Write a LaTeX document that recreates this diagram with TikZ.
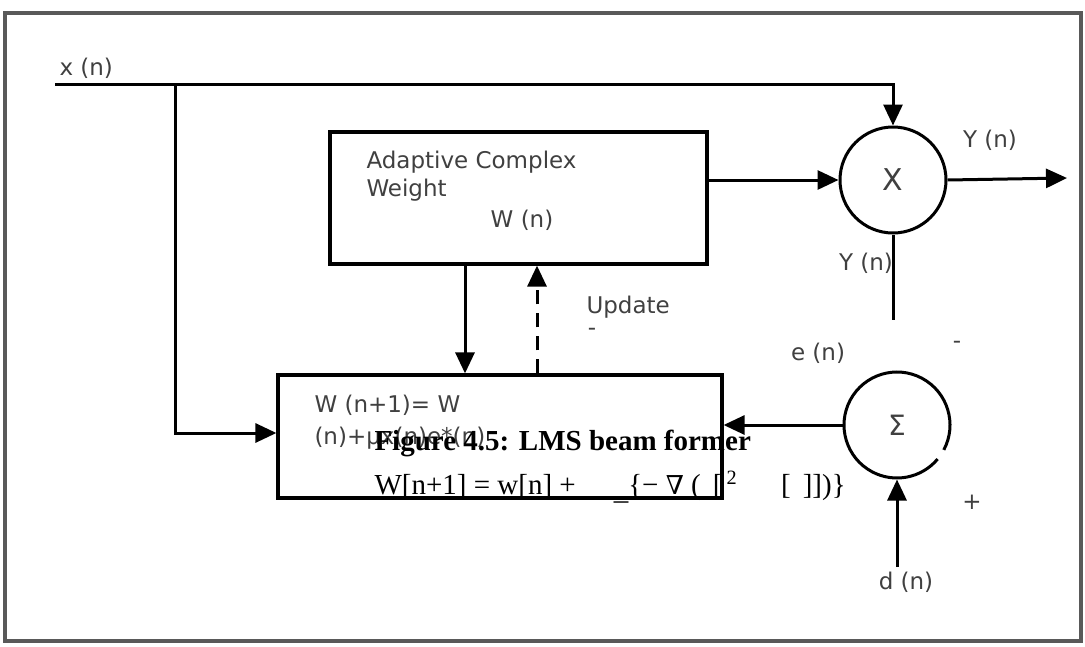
\documentclass[tikz,border=0pt]{standalone}
\usepackage{fontspec}
\usepackage{tikz}
\usetikzlibrary{arrows.meta}
\newfontfamily\blkfont{DejaVu Sans}
\newfontfamily\capfont{Liberation Serif}
\newfontfamily\symfont{DejaVu Serif}

\begin{document}
\begin{tikzpicture}[line width=3pt,>={Triangle[length=21pt,width=19pt]},
    blk/.style={draw, rectangle, line width=3.2pt, inner sep=0pt},
    junc/.style={circle, minimum size=106pt, inner sep=0pt},
    lbl/.style={text=black!75, inner sep=0pt, font=\blkfont\fontsize{23}{27}\selectfont},
    captxt/.style={inner sep=0pt, font=\capfont\fontsize{29}{33}\selectfont}]
  \useasboundingbox (0pt, 0pt) rectangle (1085pt, -646pt);
  \draw[black!65, line width=3.5pt] (5.0pt, -13.0pt) rectangle (1081.0pt, -641.0pt);
  % blocks
  \draw (518.5pt, -198.0pt)node[blk, minimum width=377pt, minimum height=132pt](adapt){};
  \draw (500.0pt, -436.5pt)node[blk, minimum width=444pt, minimum height=123pt](upd){};
  \draw (893.0pt, -180.0pt)node[junc, draw](mul){\blkfont\fontsize{30}{30}\selectfont\color{black!75}X};
  \draw (897.0pt, -425.0pt)node[junc](sum){\blkfont\fontsize{28}{28}\selectfont\color{black!75}Σ};
  \draw (sum) ++(-28:53pt) arc[start angle=-28, end angle=320, radius=53pt];
  % free ends
  \coordinate (xin) at (55.0pt, -84.0pt);
  \coordinate (split) at (175.0pt, -84.0pt);
  \coordinate (yout) at (1067.0pt, -178.0pt);
  \coordinate (ydrop) at (893.0pt, -320.0pt);
  \coordinate (dsrc) at (897.0pt, -567.0pt);
  % labels
  \draw (58.0pt, -68.0pt)node[lbl, anchor=west](xlbl){x (n)};
  \draw (365.0pt, -162.0pt)node[lbl, anchor=west](adl1){Adaptive Complex};
  \draw (365.0pt, -190.0pt)node[lbl, anchor=west](adl2){Weight};
  \draw (522.0pt, -220.0pt)node[lbl](wlbl){W (n)};
  \draw (313.0pt, -405.0pt)node[lbl, anchor=west](upl1){W (n+1)= W};
  \draw (313.0pt, -438.0pt)node[lbl, anchor=west](upl2){(n)+µx(n)e*(n)};
  \draw (585.0pt, -307.0pt)node[lbl, anchor=west](updlbl){Update};
  \draw (592.0pt, -332.0pt)node[lbl](updm){-};
  \draw (990.0pt, -140.0pt)node[lbl](youtlbl){Y (n)};
  \draw (866.0pt, -263.0pt)node[lbl](ylbl){Y (n)};
  \draw (818.0pt, -353.0pt)node[lbl](elbl){e (n)};
  \draw (957.0pt, -345.0pt)node[lbl](minus){-};
  \draw (972.0pt, -502.0pt)node[lbl](plus){+};
  \draw (906.0pt, -582.0pt)node[lbl](dlbl){d (n)};
  % connectors
  \draw[->] (xin) -| (mul.north);
  \draw[->] (split) |- (upd.west |- 0pt, -433pt);
  \draw[->] (adapt.east |- mul.west) -- (mul.west);
  \draw[->] (mul.east) -- (yout);
  \draw (mul.south) -- (ydrop);
  \draw[->] (sum.west) -- (upd.east |- sum.west);
  \draw[->] (dsrc) -- (sum.south);
  \draw[->] ([xshift=-53.5pt]adapt.south) -- ([xshift=-53.5pt]adapt.south |- upd.north);
  \draw[->, dash pattern=on 14pt off 9pt] ([xshift=18.5pt]adapt.south |- upd.north) -- ([xshift=18.5pt]adapt.south);
  % caption text printed over the figure
  \draw (373.0pt, -450.0pt)node[captxt, anchor=base west](capa){\bfseries Figure 4.5: LMS beam former};
  \draw (373.0pt, -494.0pt)node[captxt, anchor=base west](capb){W[n+1] = w[n] +\hspace{38pt}\raisebox{-5pt}{\_}\{− {\symfont\fontsize{26}{30}\selectfont ∇} (\hspace{12pt}[\hspace{4pt}\textsuperscript{2}\hspace{44pt}[\hspace{12pt}]])\}};
\end{tikzpicture}
\end{document}
